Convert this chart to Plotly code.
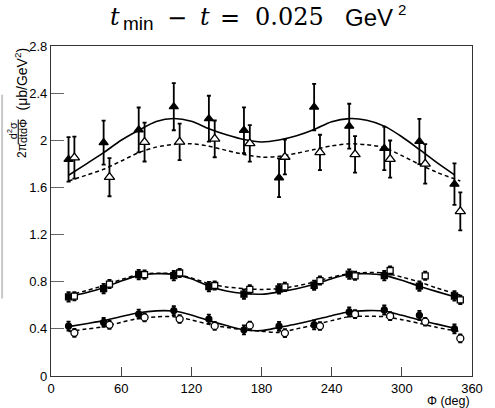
import plotly.graph_objects as go

# ---------------- data ----------------
phi_f = [15, 45, 75, 105, 135, 165, 195, 225, 255, 285, 315, 345]
phi_o = [20, 50, 80, 110, 140, 170, 200, 230, 260, 290, 320, 350]

tri_f = [1.838, 1.980, 2.088, 2.285, 2.183, 2.085, 1.682, 2.282, 2.120, 1.931, 1.990, 1.628]
tri_f_err = [0.188, 0.187, 0.190, 0.200, 0.195, 0.195, 0.165, 0.197, 0.190, 0.185, 0.192, 0.176]
tri_o = [1.853, 1.687, 1.985, 1.986, 2.012, 1.974, 1.858, 1.897, 1.880, 1.841, 1.800, 1.397]
tri_o_err = [0.178, 0.162, 0.165, 0.155, 0.156, 0.155, 0.147, 0.150, 0.155, 0.157, 0.168, 0.161]

sq_f = [0.672, 0.742, 0.861, 0.851, 0.759, 0.694, 0.740, 0.770, 0.864, 0.851, 0.763, 0.679]
sq_o = [0.677, 0.780, 0.860, 0.874, 0.768, 0.735, 0.756, 0.810, 0.850, 0.895, 0.850, 0.646]
ci_f = [0.424, 0.454, 0.525, 0.555, 0.483, 0.392, 0.422, 0.433, 0.543, 0.560, 0.515, 0.399]
ci_o = [0.366, 0.434, 0.497, 0.483, 0.425, 0.429, 0.364, 0.424, 0.525, 0.508, 0.461, 0.319]
sq_f_err = [0.040] * 12
sq_o_err = [0.035] * 12
ci_f_err = [0.038] * 12
ci_o_err = [0.033] * 12

# model curves
phi_c = [15, 30, 45, 60, 75, 90, 105, 120, 135, 150, 165, 180, 195, 210, 225, 240, 255, 270, 285, 300, 315, 330, 345]
tri_solid = [1.703, 1.798, 1.895, 2.000, 2.085, 2.160, 2.185, 2.162, 2.098, 2.047, 2.007, 1.986, 2.002, 2.038, 2.091, 2.158, 2.184, 2.170, 2.120, 2.030, 1.922, 1.810, 1.707]
phi_d = [15, 30, 45, 60, 75, 90, 105, 120, 135, 150, 165, 180, 195, 210, 225, 240, 255, 270, 285, 300, 315, 330, 350]
tri_dash = [1.655, 1.703, 1.754, 1.824, 1.895, 1.942, 1.965, 1.970, 1.950, 1.914, 1.880, 1.857, 1.864, 1.890, 1.922, 1.952, 1.970, 1.962, 1.937, 1.870, 1.796, 1.728, 1.655]
sq_solid = [0.672, 0.706, 0.748, 0.806, 0.854, 0.868, 0.862, 0.826, 0.762, 0.722, 0.700, 0.694, 0.712, 0.740, 0.778, 0.826, 0.863, 0.868, 0.854, 0.812, 0.762, 0.716, 0.672]
sq_dash = [0.683, 0.724, 0.767, 0.818, 0.860, 0.872, 0.868, 0.832, 0.784, 0.756, 0.742, 0.734, 0.742, 0.764, 0.798, 0.838, 0.868, 0.878, 0.874, 0.840, 0.798, 0.746, 0.686]
ci_solid = [0.419, 0.444, 0.470, 0.505, 0.537, 0.553, 0.551, 0.518, 0.470, 0.428, 0.392, 0.385, 0.413, 0.442, 0.475, 0.512, 0.545, 0.555, 0.551, 0.515, 0.475, 0.440, 0.405]
ci_dash = [0.377, 0.398, 0.419, 0.455, 0.489, 0.502, 0.503, 0.476, 0.438, 0.412, 0.392, 0.380, 0.370, 0.400, 0.433, 0.470, 0.503, 0.506, 0.503, 0.478, 0.447, 0.412, 0.377]

x_ticks = [0, 60, 120, 180, 240, 300, 360]
y_ticks = [0, 0.4, 0.8, 1.2, 1.6, 2.0, 2.4, 2.8]
y_ticktext = ["0", "0.4", "0.8", "1.2", "1.6", "2", "2.4", "2.8"]

# ---------------- figure ----------------
W, H = 495, 408
L, R, T, B = 51, 481.5, 46, 378

fig = go.Figure()

for y in [tri_solid, sq_solid, ci_solid]:
    fig.add_trace(go.Scatter(x=phi_c, y=y, mode="lines",
                             line=dict(color="black", width=1.6, shape="spline", smoothing=0.8),
                             showlegend=False, hoverinfo="skip"))
for y in [tri_dash, sq_dash, ci_dash]:
    fig.add_trace(go.Scatter(x=phi_d, y=y, mode="lines",
                             line=dict(color="black", width=1.5, dash="4px,3px", shape="spline", smoothing=0.8),
                             showlegend=False, hoverinfo="skip"))


def pts(x, y, err, symbol, size, fill):
    fig.add_trace(go.Scatter(
        x=x, y=y, mode="markers",
        marker=dict(symbol=symbol, size=size, color=fill, line=dict(color="black", width=1.3)),
        error_y=dict(type="data", array=err, visible=True, color="black", thickness=1.8, width=2),
        showlegend=False))


pts(phi_f, tri_f, tri_f_err, "triangle-up", 8, "black")
pts(phi_o, tri_o, tri_o_err, "triangle-up", 9, "white")
pts(phi_f, sq_f, sq_f_err, "square", 6, "black")
pts(phi_o, sq_o, sq_o_err, "square", 6, "white")
pts(phi_f, ci_f, ci_f_err, "circle", 6, "black")
pts(phi_o, ci_o, ci_o_err, "circle", 7, "white")

axis_font = dict(family="Liberation Sans, Arial", size=13, color="black")
fig.update_xaxes(range=[0, 360], tickvals=x_ticks, ticktext=[str(v) for v in x_ticks],
                 ticks="inside", ticklen=9, tickwidth=1, tickcolor="#444",
                 showline=True, linecolor="#333", linewidth=1.3, mirror=True,
                 showgrid=False, zeroline=False, tickfont=axis_font)
fig.update_yaxes(range=[0, 2.8], tickvals=y_ticks, ticktext=y_ticktext,
                 ticks="inside", ticklen=13, tickwidth=1, tickcolor="#666",
                 showline=True, linecolor="#333", linewidth=1.3, mirror=True,
                 showgrid=False, zeroline=False, tickfont=axis_font)


def px(xp):
    return (xp - L) / (R - L)


def py(yp):
    return (B - yp) / (B - T)


ann = []


def txt(text, x, y, family, size, angle=0, italic=False):
    ann.append(dict(text=("<i>%s</i>" % text) if italic else text, x=px(x), y=py(y),
                    xref="paper", yref="paper", showarrow=False, textangle=angle,
                    font=dict(family=family, size=size, color="black"),
                    xanchor="center", yanchor="middle"))


SERIF = "DejaVu Serif, Liberation Serif"
SANS = "Liberation Sans, Arial"
# title  t_min - t = 0.025 GeV^2
txt("t", 116, 17, SERIF, 24, italic=True)
txt("min", 140, 23, SANS, 19)
txt("−", 180, 18, SERIF, 24)
txt("t", 208, 17, SERIF, 24, italic=True)
txt("=", 234, 18, SERIF, 24)
txt("0.025", 295, 17, SERIF, 24)
txt("GeV", 376, 17, SANS, 24)
txt("2", 410, 9, SANS, 15)

# x title
ann.append(dict(text="Φ (deg)", x=px(482), y=py(403), xref="paper", yref="paper", showarrow=False,
                font=dict(family=SANS, size=12.5, color="black"), xanchor="right", yanchor="middle"))
# y title pieces (rotated)
txt("2π", 22, 151, SANS, 12, angle=-90)
txt("d<sup>2</sup>σ", 12, 131, SANS, 11, angle=-90)
txt("dtdΦ", 23, 132, SANS, 11, angle=-90)
txt("(μb/GeV<sup>2</sup>)", 20, 79, SANS, 14, angle=-90)
fig.update_layout(annotations=ann)

fig.add_shape(type="line", xref="paper", yref="paper", x0=px(17.5), x1=px(17.5), y0=py(120), y1=py(145),
              line=dict(color="black", width=1))
fig.add_shape(type="line", xref="paper", yref="paper", x0=px(1), x1=px(1), y0=py(95), y1=py(300),
              line=dict(color="#c8c8c8", width=2))

fig.update_layout(width=W, height=H, margin=dict(l=L, r=W - R, t=T, b=H - B),
                  plot_bgcolor="white", paper_bgcolor="white")

fig.write_html("out.html")
